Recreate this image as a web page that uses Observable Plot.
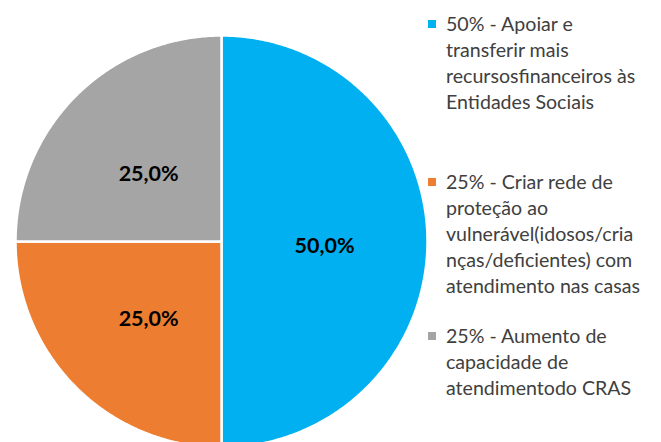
<!DOCTYPE html>
<html>
<head>
<meta charset="utf-8">
<script src="https://cdn.jsdelivr.net/npm/d3@7"></script>
<script src="https://cdn.jsdelivr.net/npm/@observablehq/plot@0.6"></script>
<style>
  html, body { margin: 0; padding: 0; background: #fff; }
  #wrap { position: relative; width: 661px; height: 442px; overflow: hidden; font-family: Lato, "Open Sans", sans-serif; }
  #legend { position: absolute; left: 428px; top: 0; color: #404040; font-size: 19.6px; line-height: 26px; }
  .item { position: absolute; left: 0; white-space: nowrap; }
  .sw { position: absolute; left: 0; width: 8px; height: 8px; }
  .txt { position: absolute; left: 18px; }
</style>
</head>
<body>
<div id="wrap"><div id="chart"></div><div id="legend"></div></div>
<script>
const categories = ["Apoiar e transferir mais recursos financeiros às Entidades Sociais",
                    "Criar rede de proteção ao vulnerável",
                    "Aumento de capacidade de atendimento do CRAS"];
const values = [50, 25, 25];
const colors = ["#00B0F0", "#ED7D31", "#A5A5A5"];
const legendLines = [
  ["50% - Apoiar e", "transferir mais", "recursosfinanceiros às", "Entidades Sociais"],
  ["25% - Criar rede de", "proteção ao", "vulnerável(idosos/cria", "nças/deficientes) com", "atendimento nas casas"],
  ["25% - Aumento de", "capacidade de", "atendimentodo CRAS"]
];

const total = d3.sum(values);
const arcs = d3.pie().sort(null).value(d => d)(values);

// polygon outline of each slice on the unit circle (angle 0 = 12 o'clock, clockwise)
const poly = [];
arcs.forEach((a, i) => {
  poly.push({cat: categories[i], x: 0, y: 0, i});
  const n = Math.max(2, Math.ceil((a.endAngle - a.startAngle) / 0.01));
  for (let k = 0; k <= n; k++) {
    const t = a.startAngle + (a.endAngle - a.startAngle) * k / n;
    poly.push({cat: categories[i], x: Math.sin(t), y: Math.cos(t), i});
  }
});
const labels = arcs.map((a, i) => {
  const m = (a.startAngle + a.endAngle) / 2;
  return {x: 0.5 * Math.sin(m), y: 0.5 * Math.cos(m),
          text: (values[i] / total * 100).toFixed(1).replace(".", ",") + "%"};
});

const R = 206, cx = 221, cy = 241;
const chart = Plot.plot({
  width: 661, height: 442,
  margin: 0,
  x: {domain: [-1, 1], range: [cx - R, cx + R], axis: null},
  y: {domain: [-1, 1], range: [cy + R, cy - R], axis: null},
  color: {domain: categories, range: colors},
  marks: [
    Plot.line(poly, {x: "x", y: "y", z: "cat", fill: "cat", stroke: "white", strokeWidth: 2.5, curve: "linear-closed"}),
    Plot.text(labels, {x: "x", y: "y", text: "text", dy: 5, fontSize: 21.5, fontWeight: "bold", fill: "#000", fontFamily: "Lato, 'Open Sans', sans-serif"})
  ]
});
document.getElementById("chart").appendChild(chart);

const itemTops = [11, 169, 323];
const legend = document.getElementById("legend");
legendLines.forEach((lines, i) => {
  const it = document.createElement("div");
  it.className = "item";
  it.style.top = itemTops[i] + "px";
  const sw = document.createElement("div");
  sw.className = "sw";
  sw.style.background = colors[i];
  sw.style.top = "9px";
  const tx = document.createElement("div");
  tx.className = "txt";
  tx.innerHTML = lines.join("<br>");
  it.appendChild(sw); it.appendChild(tx);
  legend.appendChild(it);
});
</script>
</body>
</html>
